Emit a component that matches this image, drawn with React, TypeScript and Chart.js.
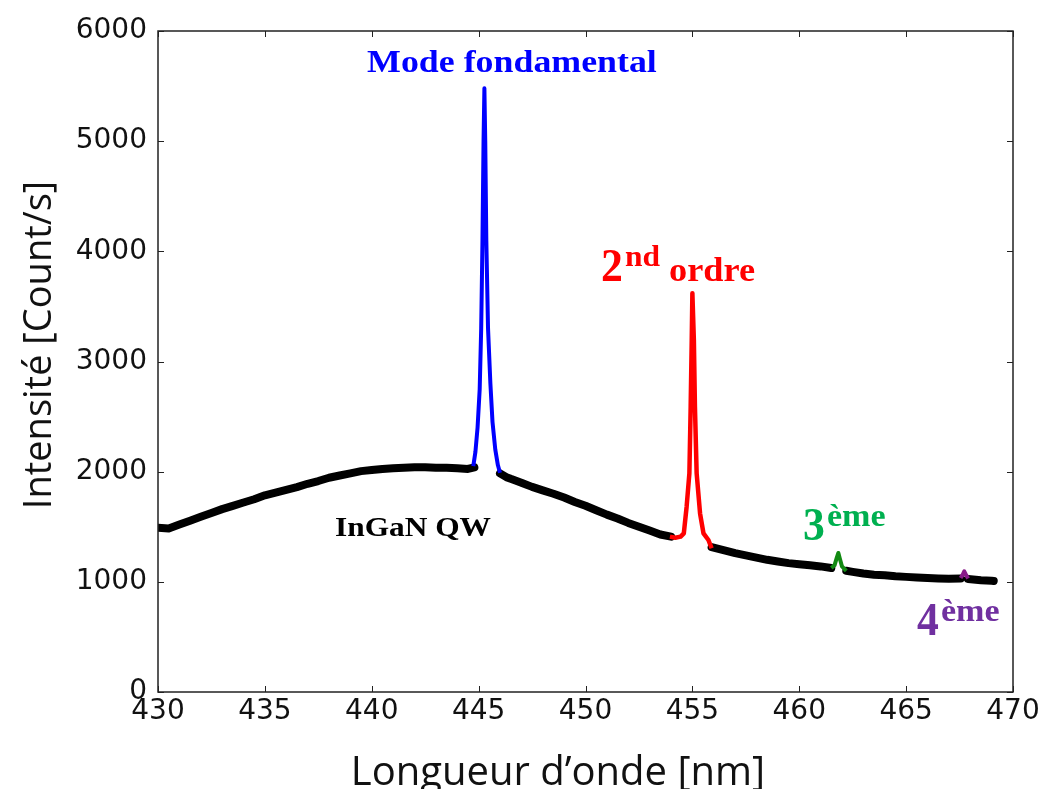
import React, { useEffect, useRef } from "react";
import { Chart, registerables } from "chart.js";

Chart.register(...registerables);

// Broad InGaN QW emission (black), null marks where a fitted peak replaces it
const bgWavelength = [
  430.0, 430.5, 431.0, 431.5, 432.0, 432.5, 433.0, 433.5, 434.0, 434.5,
  435.0, 435.5, 436.0, 436.5, 437.0, 437.5, 438.0, 438.5, 439.0, 439.5,
  440.0, 440.5, 441.0, 441.5, 442.0, 442.5, 443.0, 443.5, 444.0, 444.5, 444.8,
  445.4,
  446.0, 446.3, 446.5, 447.0, 447.5, 448.0, 448.5, 449.0, 449.5, 450.0,
  450.5, 451.0, 451.5, 452.0, 452.5, 453.0, 453.5, 454.0,
  455.0,
  455.9, 456.5, 457.0, 457.5, 458.0, 458.5, 459.0, 459.5, 460.0, 460.5,
  461.0, 461.5,
  461.8,
  462.2, 462.5, 463.0, 463.5, 464.0, 464.5, 465.0, 465.5, 466.0, 466.5,
  467.0, 467.55,
  467.7,
  467.9, 468.5, 469.0, 469.1,
];
const bgIntensity = [
  1490, 1485, 1520, 1555, 1590, 1625, 1660, 1690, 1720, 1750,
  1785, 1810, 1835, 1860, 1890, 1915, 1945, 1965, 1985, 2005,
  2015, 2025, 2030, 2035, 2040, 2040, 2035, 2035, 2030, 2025, 2040,
  null,
  1985, 1950, 1935, 1900, 1862, 1830, 1800, 1765, 1725, 1690,
  1650, 1610, 1575, 1535, 1500, 1465, 1430, 1410,
  null,
  1315, 1285, 1260, 1240, 1220, 1200, 1185, 1170, 1160, 1150,
  1140, 1125,
  null,
  1100, 1090, 1075, 1065, 1060, 1050, 1045, 1040, 1035, 1030,
  1027, 1030,
  null,
  1025, 1015, 1010, 1008,
];

// Fundamental mode (blue)
const fundWavelength = [444.75, 444.85, 444.95, 445.05, 445.12, 445.18, 445.23, 445.27, 445.31, 445.36, 445.44, 445.55, 445.65, 445.78, 445.9, 446.0];
const fundIntensity = [2050, 2180, 2400, 2750, 3300, 4100, 5000, 5480, 5000, 4100, 3300, 2800, 2450, 2200, 2060, 1990];

// 2nd order (red)
const secondWavelength = [453.95, 454.2, 454.45, 454.6, 454.73, 454.86, 454.92, 454.97, 455.0, 455.07, 455.12, 455.2, 455.36, 455.52, 455.75, 455.9];
const secondIntensity = [1410, 1400, 1410, 1440, 1680, 1985, 2590, 3195, 3620, 3195, 2590, 1985, 1620, 1440, 1380, 1305];

// 3rd order (green)
const thirdWavelength = [461.5, 461.65, 461.75, 461.83, 461.9, 462.0, 462.2];
const thirdIntensity = [1125, 1150, 1215, 1262, 1210, 1140, 1100];

// 4th order (purple)
const fourthWavelength = [467.55, 467.65, 467.72, 467.8, 467.9];
const fourthIntensity = [1035, 1065, 1095, 1065, 1030];

const xTicks = [430, 435, 440, 445, 450, 455, 460, 465, 470];
const yTicks = [0, 1000, 2000, 3000, 4000, 5000, 6000];

const xTitle = "Longueur d\u2019onde [nm]";
const yTitle = "Intensit\u00e9 [Count/s]";

const toPoints = (xs: number[], ys: (number | null)[]) =>
  xs.map((x, i) => ({ x, y: ys[i] }));

type Part = { t: string; size: number; rise: number; gap: number; stretch: number };
type Label = { parts: Part[]; x: number; y: number; align: "left" | "center"; color: string };

const labels: Label[] = [
  { parts: [{ t: "Mode fondamental", size: 32, rise: 0, gap: 0, stretch: 1.12 }], x: 446.56, y: 5628, align: "center", color: "#0000ff" },
  {
    parts: [
      { t: "2", size: 46, rise: 0, gap: 0, stretch: 0.95 },
      { t: "nd", size: 30, rise: 15, gap: 2, stretch: 1.05 },
      { t: "ordre", size: 33, rise: 0, gap: 9, stretch: 1.1 },
    ],
    x: 450.73, y: 3730, align: "left", color: "#ff0000",
  },
  {
    parts: [
      { t: "3", size: 46, rise: 0, gap: 0, stretch: 0.95 },
      { t: "\u00e8me", size: 31, rise: 14, gap: 2, stretch: 1.1 },
    ],
    x: 460.18, y: 1380, align: "left", color: "#00b050",
  },
  {
    parts: [
      { t: "4", size: 46, rise: 0, gap: 0, stretch: 0.95 },
      { t: "\u00e8me", size: 31, rise: 14, gap: 2, stretch: 1.1 },
    ],
    x: 465.51, y: 517, align: "left", color: "#7030a0",
  },
  { parts: [{ t: "InGaN QW", size: 28, rise: 0, gap: 0, stretch: 1.12 }], x: 438.28, y: 1416, align: "left", color: "#000000" },
];

const serif = (s: number) => `bold ${s}px "Liberation Serif", "DejaVu Serif", serif`;

const framePlugin = {
  id: "framePlugin",
  afterDatasetsDraw(chart: any) {
    const { ctx, chartArea: a, scales } = chart;
    const xs = scales.x;
    const ys = scales.y;
    ctx.save();
    // frame
    ctx.strokeStyle = "#222";
    ctx.lineWidth = 1.5;
    ctx.strokeRect(a.left, a.top, a.right - a.left, a.bottom - a.top);
    // inward ticks on all sides
    ctx.lineWidth = 1;
    const tl = 6;
    ctx.beginPath();
    xTicks.forEach((v) => {
      const px = Math.round(xs.getPixelForValue(v)) + 0.5;
      ctx.moveTo(px, a.bottom);
      ctx.lineTo(px, a.bottom - tl);
      ctx.moveTo(px, a.top);
      ctx.lineTo(px, a.top + tl);
    });
    yTicks.forEach((v) => {
      const py = Math.round(ys.getPixelForValue(v)) + 0.5;
      ctx.moveTo(a.left, py);
      ctx.lineTo(a.left + tl, py);
      ctx.moveTo(a.right, py);
      ctx.lineTo(a.right - tl, py);
    });
    ctx.stroke();

    // annotations
    labels.forEach((lb) => {
      const widths = lb.parts.map((p) => {
        ctx.font = serif(p.size);
        return ctx.measureText(p.t).width * p.stretch;
      });
      const total = widths.reduce((s, w, i) => s + w + lb.parts[i].gap, 0);
      let cx = xs.getPixelForValue(lb.x);
      const by = ys.getPixelForValue(lb.y);
      if (lb.align === "center") cx -= total / 2;
      ctx.fillStyle = lb.color;
      ctx.textBaseline = "alphabetic";
      ctx.textAlign = "left";
      lb.parts.forEach((p, i) => {
        cx += p.gap;
        ctx.font = serif(p.size);
        ctx.save();
        ctx.translate(cx, by - p.rise);
        ctx.scale(p.stretch, 1);
        ctx.fillText(p.t, 0, 0);
        ctx.restore();
        cx += widths[i];
      });
    });

    // axis titles
    ctx.fillStyle = "#111";
    ctx.font = '40px "Open Sans", "DejaVu Sans", sans-serif';
    ctx.textAlign = "center";
    ctx.textBaseline = "alphabetic";
    ctx.fillText(xTitle, 558, 785);
    ctx.font = '38px "Open Sans", "DejaVu Sans", sans-serif';
    ctx.save();
    ctx.translate(40, 345);
    ctx.rotate(-Math.PI / 2);
    ctx.textBaseline = "middle";
    ctx.fillText(yTitle, 0, 0);
    ctx.restore();
    ctx.restore();
  },
};

export default function App() {
  const ref = useRef<HTMLCanvasElement | null>(null);
  useEffect(() => {
    document.body.style.margin = "0";
    document.body.style.background = "#fff";
    if (!ref.current) return;
    const chart = new Chart(ref.current, {
      type: "line",
      data: {
        datasets: [
          {
            label: "InGaN QW",
            data: toPoints(bgWavelength, bgIntensity),
            borderColor: "#000",
            borderWidth: 8,
            borderJoinStyle: "round",
            borderCapStyle: "round",
            pointRadius: 0,
            spanGaps: false,
            order: 10,
          },
          {
            label: "Mode fondamental",
            data: toPoints(fundWavelength, fundIntensity),
            borderColor: "#0000ff",
            borderWidth: 4,
            borderJoinStyle: "round",
            pointRadius: 0,
            order: 1,
          },
          {
            label: "2nd ordre",
            data: toPoints(secondWavelength, secondIntensity),
            borderColor: "#ff0000",
            borderWidth: 4.5,
            borderJoinStyle: "round",
            pointRadius: 0,
            order: 1,
          },
          {
            label: "3ème",
            data: toPoints(thirdWavelength, thirdIntensity),
            borderColor: "#128a12",
            borderWidth: 4,
            borderJoinStyle: "round",
            pointRadius: 0,
            order: 1,
          },
          {
            label: "4ème",
            data: toPoints(fourthWavelength, fourthIntensity),
            borderColor: "#8a1a8a",
            borderWidth: 4,
            borderJoinStyle: "round",
            pointRadius: 0,
            order: 1,
          },
        ],
      },
      options: {
        animation: false,
        responsive: false,
        devicePixelRatio: 1,
        layout: { padding: { top: 31, right: 30, left: 0, bottom: 0 } },
        plugins: { legend: { display: false }, tooltip: { enabled: false } },
        scales: {
          x: {
            type: "linear",
            min: 430,
            max: 470,
            afterFit: (s: any) => { s.height = 97; },
            afterBuildTicks: (s: any) => { s.ticks = xTicks.map((v) => ({ value: v })); },
            grid: { display: false, drawTicks: false },
            border: { display: false },
            ticks: {
              font: { family: "DejaVu Sans", size: 28 },
              color: "#111",
              padding: 3,
              maxRotation: 0,
              callback: (v: any) => String(v),
            },
          },
          y: {
            type: "linear",
            min: 0,
            max: 6000,
            afterFit: (s: any) => { s.width = 158; },
            afterBuildTicks: (s: any) => { s.ticks = yTicks.map((v) => ({ value: v })); },
            grid: { display: false, drawTicks: false },
            border: { display: false },
            ticks: {
              font: { family: "DejaVu Sans", size: 28 },
              color: "#111",
              padding: 11,
              callback: (v: any) => String(v),
            },
          },
        },
      },
      plugins: [framePlugin],
    } as any);
    return () => chart.destroy();
  }, []);
  return <canvas ref={ref} width={1043} height={789} style={{ display: "block" }} />;
}
